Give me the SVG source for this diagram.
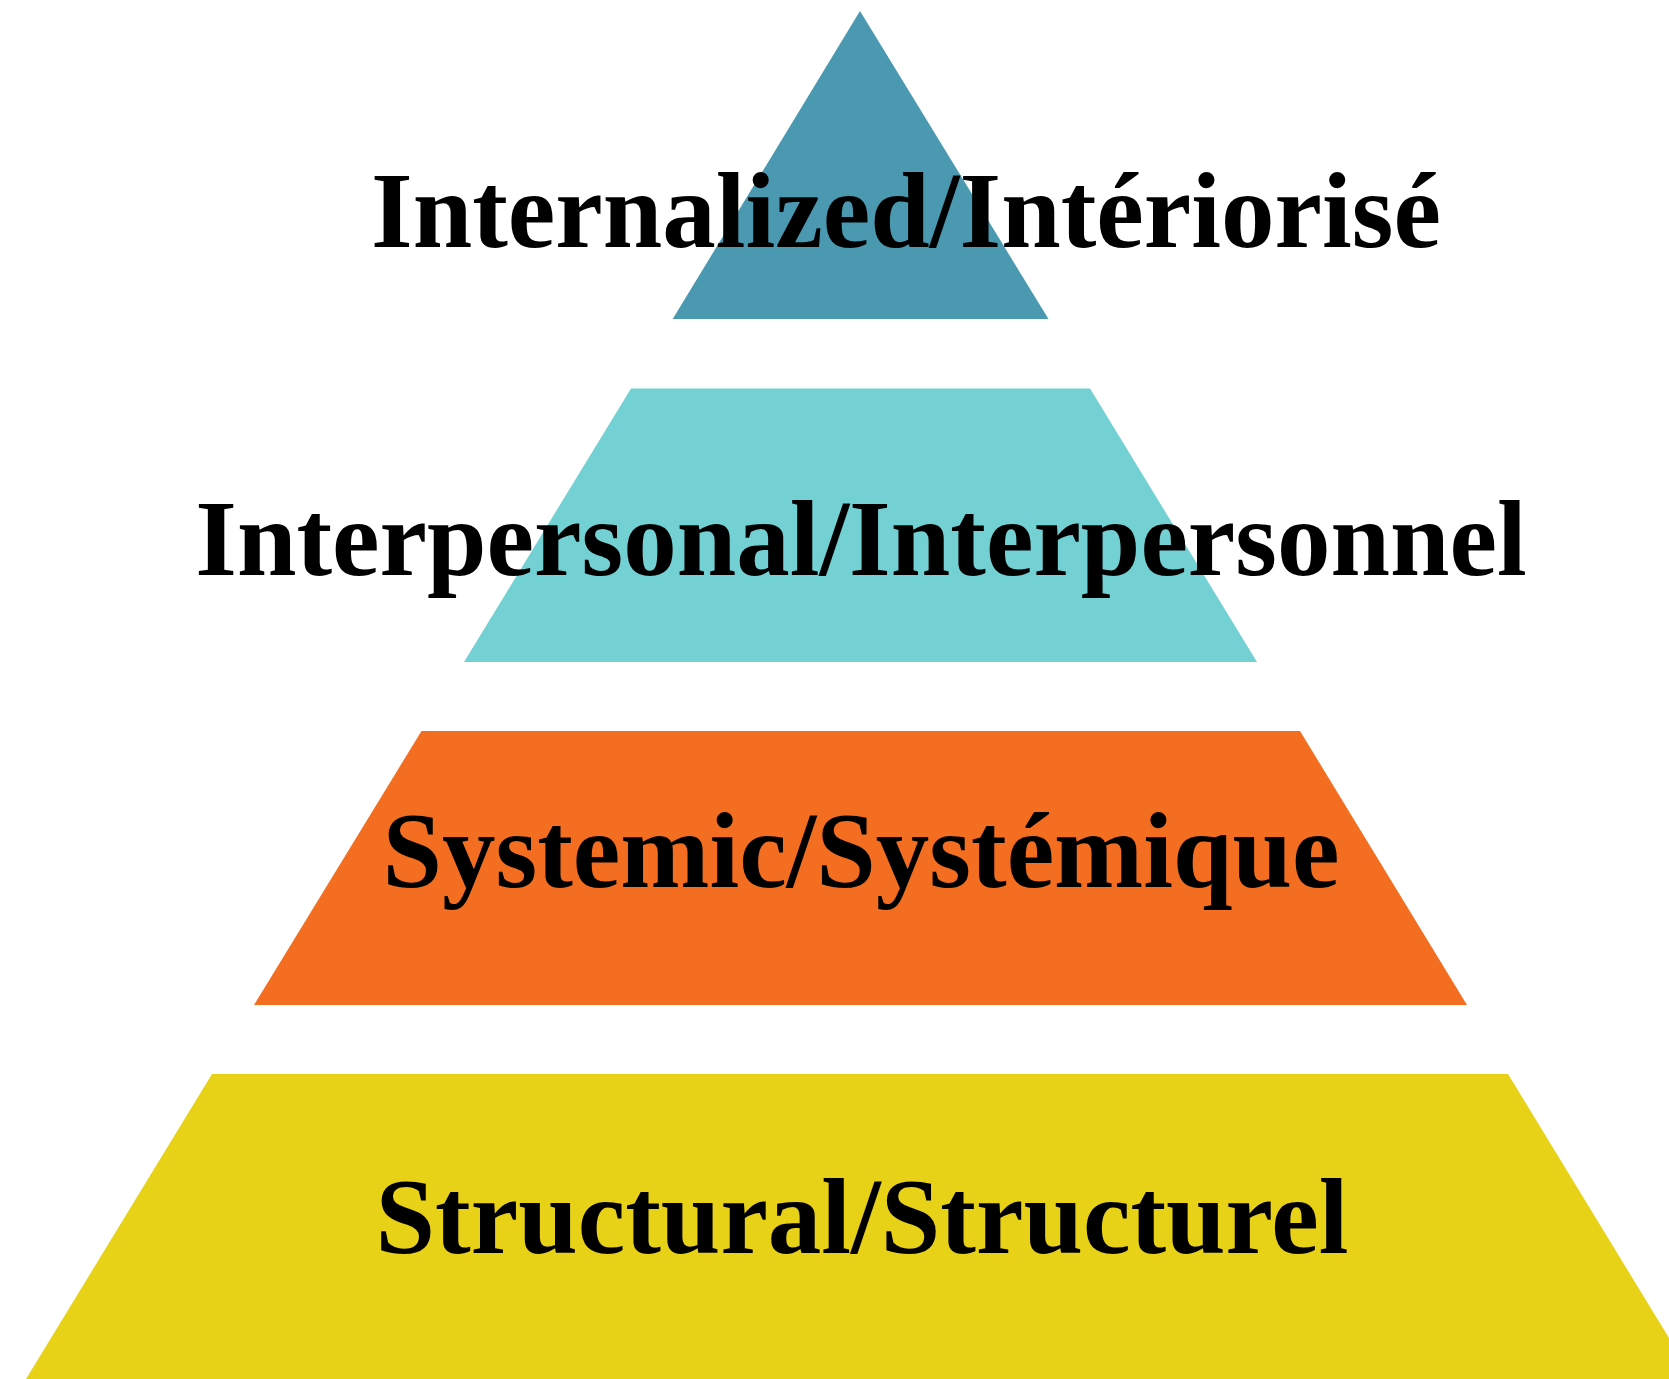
<svg xmlns="http://www.w3.org/2000/svg" width="1669" height="1379" viewBox="0 0 1669 1379">
<style>
.lbl{font-family:"Liberation Serif","Times New Roman",serif;font-weight:bold;font-size:107px;fill:#000;text-anchor:middle}
</style>
<rect width="1669" height="1379" fill="#fff"/>
<g id="level-internalized">
<polygon points="860,11 1048.5,319 672.7,319" fill="#4B99B1"/>
</g>
<g id="level-interpersonal">
<polygon points="631,388.5 1090,388.5 1257,662 464,662" fill="#73D0D3"/>
</g>
<g id="level-systemic">
<polygon points="421.5,731 1300,731 1467,1005 254,1005" fill="#F36E20"/>
</g>
<g id="level-structural">
<polygon points="212,1074 1508,1074 1694,1379 26,1379" fill="#E8D217"/>
</g>
<g id="labels">
<text class="lbl" x="906" y="247">Internalized/Intériorisé</text>
<text class="lbl" x="861" y="575">Interpersonal/Interpersonnel</text>
<text class="lbl" x="861" y="887">Systemic/Systémique</text>
<text class="lbl" x="862" y="1253">Structural/Structurel</text>
</g>
<g id="connectors"/>
</svg>
